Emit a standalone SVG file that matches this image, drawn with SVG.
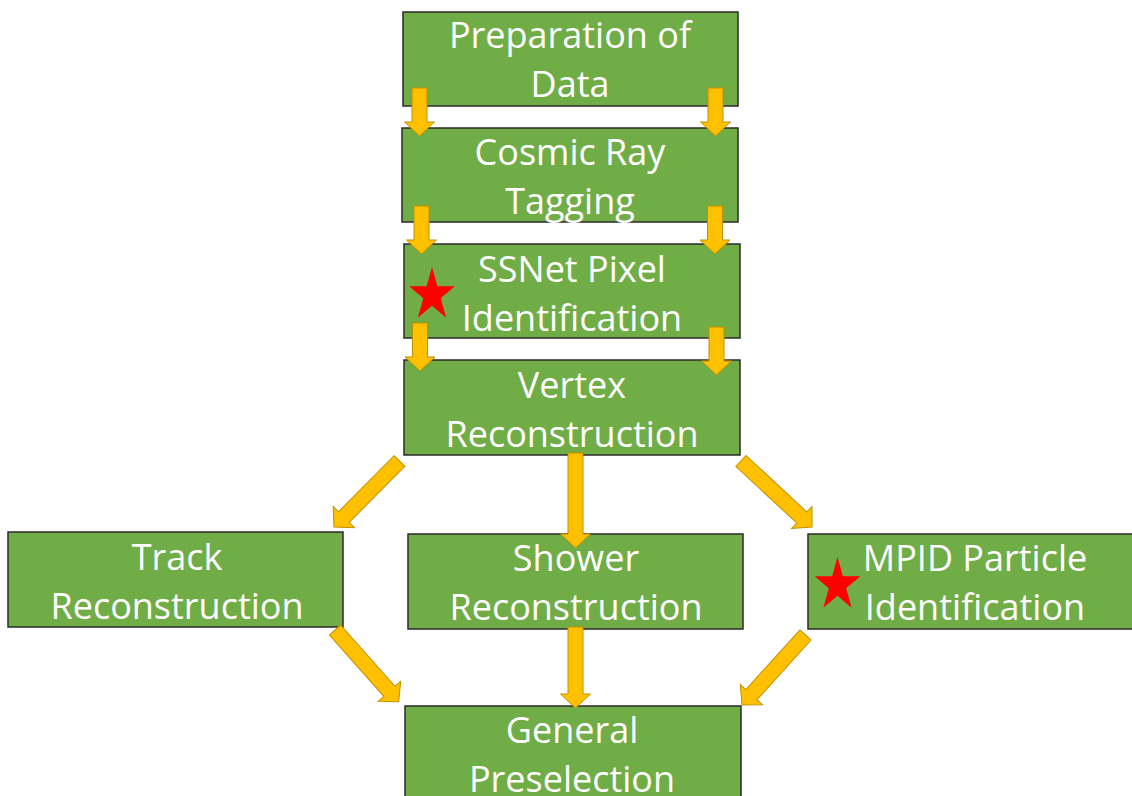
<svg xmlns="http://www.w3.org/2000/svg" width="1132" height="796" viewBox="0 0 1132 796">
<style>
.box{fill:#70AD47;stroke:#2a2a2a;stroke-width:1.5}
.t{font-family:"Open Sans","Liberation Sans",sans-serif;font-size:36px;fill:#ffffff;text-anchor:middle}
.ar{fill:#FFC000;stroke:#BF9000;stroke-width:1}
.star{fill:#FF0000}
</style>
<defs>
<path id="starShape" d="M0,-28 L5.39,-8.66 L22.83,-8.65 L8.72,3.31 L14.11,22.65 L0,10.7 L-14.11,22.65 L-8.72,3.31 L-22.83,-8.65 L-5.39,-8.66 Z"/>
<path id="v48" d="M0,-7.5 H34 V-15 L48,0 L34,15 V7.5 H0 Z"/>
</defs>
<rect width="1132" height="796" fill="#ffffff"/>

<g id="prep">
<rect class="box" x="403" y="12" width="335" height="94"/>
<text class="t" x="570" y="48">Preparation of</text>
<text class="t" x="570" y="97">Data</text>
</g>
<g id="cosmic">
<rect class="box" x="402" y="128" width="336" height="94"/>
<text class="t" x="570" y="165">Cosmic Ray</text>
<text class="t" x="570" y="214">Tagging</text>
</g>
<g id="ssnet">
<rect class="box" x="404" y="244" width="336" height="94"/>
<text class="t" x="572" y="282">SSNet Pixel</text>
<text class="t" x="572" y="331">Identification</text>
<use href="#starShape" class="star" transform="translate(432,295)"/>
</g>
<g id="vertex">
<rect class="box" x="404" y="360" width="336" height="95"/>
<text class="t" x="572" y="398">Vertex</text>
<text class="t" x="572" y="447">Reconstruction</text>
</g>
<g id="track">
<rect class="box" x="8" y="532" width="335" height="95"/>
<text class="t" x="177" y="570">Track</text>
<text class="t" x="177" y="619">Reconstruction</text>
</g>
<g id="shower">
<rect class="box" x="408" y="534" width="335" height="95"/>
<text class="t" x="576" y="571">Shower</text>
<text class="t" x="576" y="620">Reconstruction</text>
</g>
<g id="mpid">
<rect class="box" x="808" y="534" width="330" height="95"/>
<text class="t" x="975" y="571">MPID Particle</text>
<text class="t" x="975" y="620">Identification</text>
<use href="#starShape" class="star" transform="translate(837.5,585)"/>
</g>
<g id="general">
<rect class="box" x="405" y="706" width="336" height="100"/>
<text class="t" x="572" y="743">General</text>
<text class="t" x="572" y="792">Preselection</text>
</g>

<g id="connectors">
<use href="#v48" class="ar" transform="translate(419.5,88) rotate(90)"/>
<use href="#v48" class="ar" transform="translate(715.5,88) rotate(90)"/>
<use href="#v48" class="ar" transform="translate(421.5,206) rotate(90)"/>
<use href="#v48" class="ar" transform="translate(715,206) rotate(90)"/>
<use href="#v48" class="ar" transform="translate(420,323) rotate(90)"/>
<use href="#v48" class="ar" transform="translate(716.5,327) rotate(90)"/>
<path class="ar" transform="translate(575.5,453) rotate(90)" d="M0,-7.5 H81 V-15 L95,0 L81,15 V7.5 H0 Z"/>
<path class="ar" transform="translate(575.5,627) rotate(90)" d="M0,-7.5 H67 V-15 L81,0 L67,15 V7.5 H0 Z"/>
<path class="ar" transform="translate(399.5,461) rotate(134.8)" d="M0,-7.5 H79 V-15 L93,0 L79,15 V7.5 H0 Z"/>
<path class="ar" transform="translate(741,461) rotate(42.9)" d="M0,-7.5 H83 V-15 L97,0 L83,15 V7.5 H0 Z"/>
<path class="ar" transform="translate(335,630) rotate(48.4)" d="M0,-7.5 H82 V-15 L96,0 L82,15 V7.5 H0 Z"/>
<path class="ar" transform="translate(805.5,635) rotate(132.2)" d="M0,-7.5 H80.5 V-15 L94.5,0 L80.5,15 V7.5 H0 Z"/>
</g>
</svg>
